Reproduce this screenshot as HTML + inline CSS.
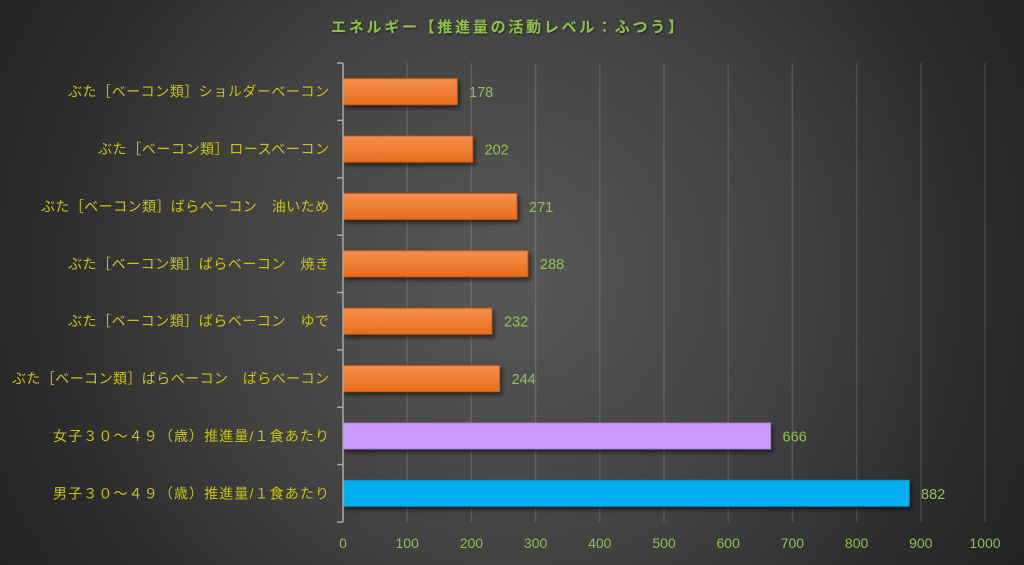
<!DOCTYPE html>
<html>
<head>
<meta charset="utf-8">
<style>
  html,body{margin:0;padding:0;background:#2a2a2a;}
  svg{display:block;}
  .cat{font-family:"Liberation Sans","Noto Sans CJK JP",sans-serif;font-size:14px;fill:#c8c30e;}
  .val{font-family:"Liberation Sans",sans-serif;font-size:14.5px;fill:#8fc152;}
  .tick{font-family:"Liberation Sans",sans-serif;font-size:14px;fill:#8cbf50;}
  .title{font-family:"Liberation Sans","Noto Sans CJK JP",sans-serif;font-size:15px;font-weight:bold;fill:#8cc04a;}
</style>
</head>
<body>
<svg width="1024" height="565" viewBox="0 0 1024 565" xmlns="http://www.w3.org/2000/svg">
  <defs>
    <radialGradient id="bg" cx="510" cy="275" r="590" gradientUnits="userSpaceOnUse">
      <stop offset="0" stop-color="#585858"/>
      <stop offset="0.5" stop-color="#414141"/>
      <stop offset="0.8" stop-color="#2c2c2c"/>
      <stop offset="1" stop-color="#242424"/>
    </radialGradient>
    <linearGradient id="og" x1="0" y1="0" x2="0" y2="1">
      <stop offset="0" stop-color="#f6904e"/>
      <stop offset="1" stop-color="#e86d1c"/>
    </linearGradient>
    <filter id="sh" x="-5%" y="-30%" width="115%" height="180%">
      <feDropShadow dx="2" dy="3" stdDeviation="2" flood-color="#000" flood-opacity="0.55"/>
    </filter>
    <filter id="tsh" x="-5%" y="-30%" width="110%" height="180%">
      <feDropShadow dx="1" dy="1" stdDeviation="1" flood-color="#000" flood-opacity="0.5"/>
    </filter>
  </defs>
  <rect x="0" y="0" width="1024" height="565" fill="url(#bg)"/>

  <!-- title -->
  <text class="title" x="507" y="32" text-anchor="middle" textLength="352" lengthAdjust="spacing" filter="url(#tsh)">エネルギー【推進量の活動レベル：ふつう】</text>

  <!-- gridlines -->
  <g stroke="#ffffff" stroke-opacity="0.13" stroke-width="1.5">
    <line x1="407.2" y1="63" x2="407.2" y2="522"/>
    <line x1="471.4" y1="63" x2="471.4" y2="522"/>
    <line x1="535.6" y1="63" x2="535.6" y2="522"/>
    <line x1="599.8" y1="63" x2="599.8" y2="522"/>
    <line x1="664" y1="63" x2="664" y2="522"/>
    <line x1="728.2" y1="63" x2="728.2" y2="522"/>
    <line x1="792.4" y1="63" x2="792.4" y2="522"/>
    <line x1="856.6" y1="63" x2="856.6" y2="522"/>
    <line x1="920.8" y1="63" x2="920.8" y2="522"/>
    <line x1="985" y1="63" x2="985" y2="522"/>
  </g>

  <!-- bars -->
  <g filter="url(#sh)">
    <rect x="343" y="78.7" width="114.3" height="26" fill="url(#og)" stroke="#c85a1a" stroke-width="1"/>
    <rect x="343" y="136.1" width="129.7" height="26" fill="url(#og)" stroke="#c85a1a" stroke-width="1"/>
    <rect x="343" y="193.4" width="174" height="26" fill="url(#og)" stroke="#c85a1a" stroke-width="1"/>
    <rect x="343" y="250.8" width="184.9" height="26" fill="url(#og)" stroke="#c85a1a" stroke-width="1"/>
    <rect x="343" y="308.2" width="148.9" height="26" fill="url(#og)" stroke="#c85a1a" stroke-width="1"/>
    <rect x="343" y="365.6" width="156.6" height="26" fill="url(#og)" stroke="#c85a1a" stroke-width="1"/>
    <rect x="343" y="423" width="427.6" height="26" fill="#cc99ff" stroke="#a77ad6" stroke-width="1"/>
    <rect x="343" y="480.3" width="566.2" height="26" fill="#00b0f0" stroke="#0a8fc4" stroke-width="1"/>
  </g>

  <!-- axis -->
  <g stroke="#a8a8a8" stroke-width="1.5" fill="none">
    <line x1="343" y1="63" x2="343" y2="522"/>
    <line x1="337" y1="63" x2="343" y2="63"/>
    <line x1="337" y1="120.4" x2="343" y2="120.4"/>
    <line x1="337" y1="177.8" x2="343" y2="177.8"/>
    <line x1="337" y1="235.1" x2="343" y2="235.1"/>
    <line x1="337" y1="292.5" x2="343" y2="292.5"/>
    <line x1="337" y1="349.9" x2="343" y2="349.9"/>
    <line x1="337" y1="407.3" x2="343" y2="407.3"/>
    <line x1="337" y1="464.6" x2="343" y2="464.6"/>
    <line x1="337" y1="522" x2="343" y2="522"/>
  </g>

  <!-- value labels -->
  <text class="val" x="469" y="97">178</text>
  <text class="val" x="484.5" y="154.5">202</text>
  <text class="val" x="529" y="212">271</text>
  <text class="val" x="540" y="269">288</text>
  <text class="val" x="504" y="326.5">232</text>
  <text class="val" x="511.5" y="384">244</text>
  <text class="val" x="782.5" y="441.5">666</text>
  <text class="val" x="921" y="499">882</text>

  <!-- category labels -->
  <text class="cat" x="329" y="96.7" text-anchor="end" textLength="261" lengthAdjust="spacing">ぶた［ベーコン類］ショルダーベーコン</text>
  <text class="cat" x="329" y="154.1" text-anchor="end" textLength="231" lengthAdjust="spacing">ぶた［ベーコン類］ロースベーコン</text>
  <text class="cat" x="329" y="211.4" text-anchor="end" textLength="288" lengthAdjust="spacing">ぶた［ベーコン類］ばらベーコン　油いため</text>
  <text class="cat" x="329" y="268.8" text-anchor="end" textLength="261" lengthAdjust="spacing">ぶた［ベーコン類］ばらベーコン　焼き</text>
  <text class="cat" x="329" y="326.2" text-anchor="end" textLength="261" lengthAdjust="spacing">ぶた［ベーコン類］ばらベーコン　ゆで</text>
  <text class="cat" x="329" y="383.6" text-anchor="end" textLength="317" lengthAdjust="spacing">ぶた［ベーコン類］ばらベーコン　ばらベーコン</text>
  <text class="cat" x="329" y="441" text-anchor="end" textLength="276" lengthAdjust="spacing">女子３０～４９（歳）推進量/１食あたり</text>
  <text class="cat" x="329" y="498.3" text-anchor="end" textLength="276" lengthAdjust="spacing">男子３０～４９（歳）推進量/１食あたり</text>

  <!-- x tick labels -->
  <g class="tick" text-anchor="middle">
    <text x="343" y="548">0</text>
    <text x="407.2" y="548">100</text>
    <text x="471.4" y="548">200</text>
    <text x="535.6" y="548">300</text>
    <text x="599.8" y="548">400</text>
    <text x="664" y="548">500</text>
    <text x="728.2" y="548">600</text>
    <text x="792.4" y="548">700</text>
    <text x="856.6" y="548">800</text>
    <text x="920.8" y="548">900</text>
    <text x="985" y="548">1000</text>
  </g>
</svg>
</body>
</html>
